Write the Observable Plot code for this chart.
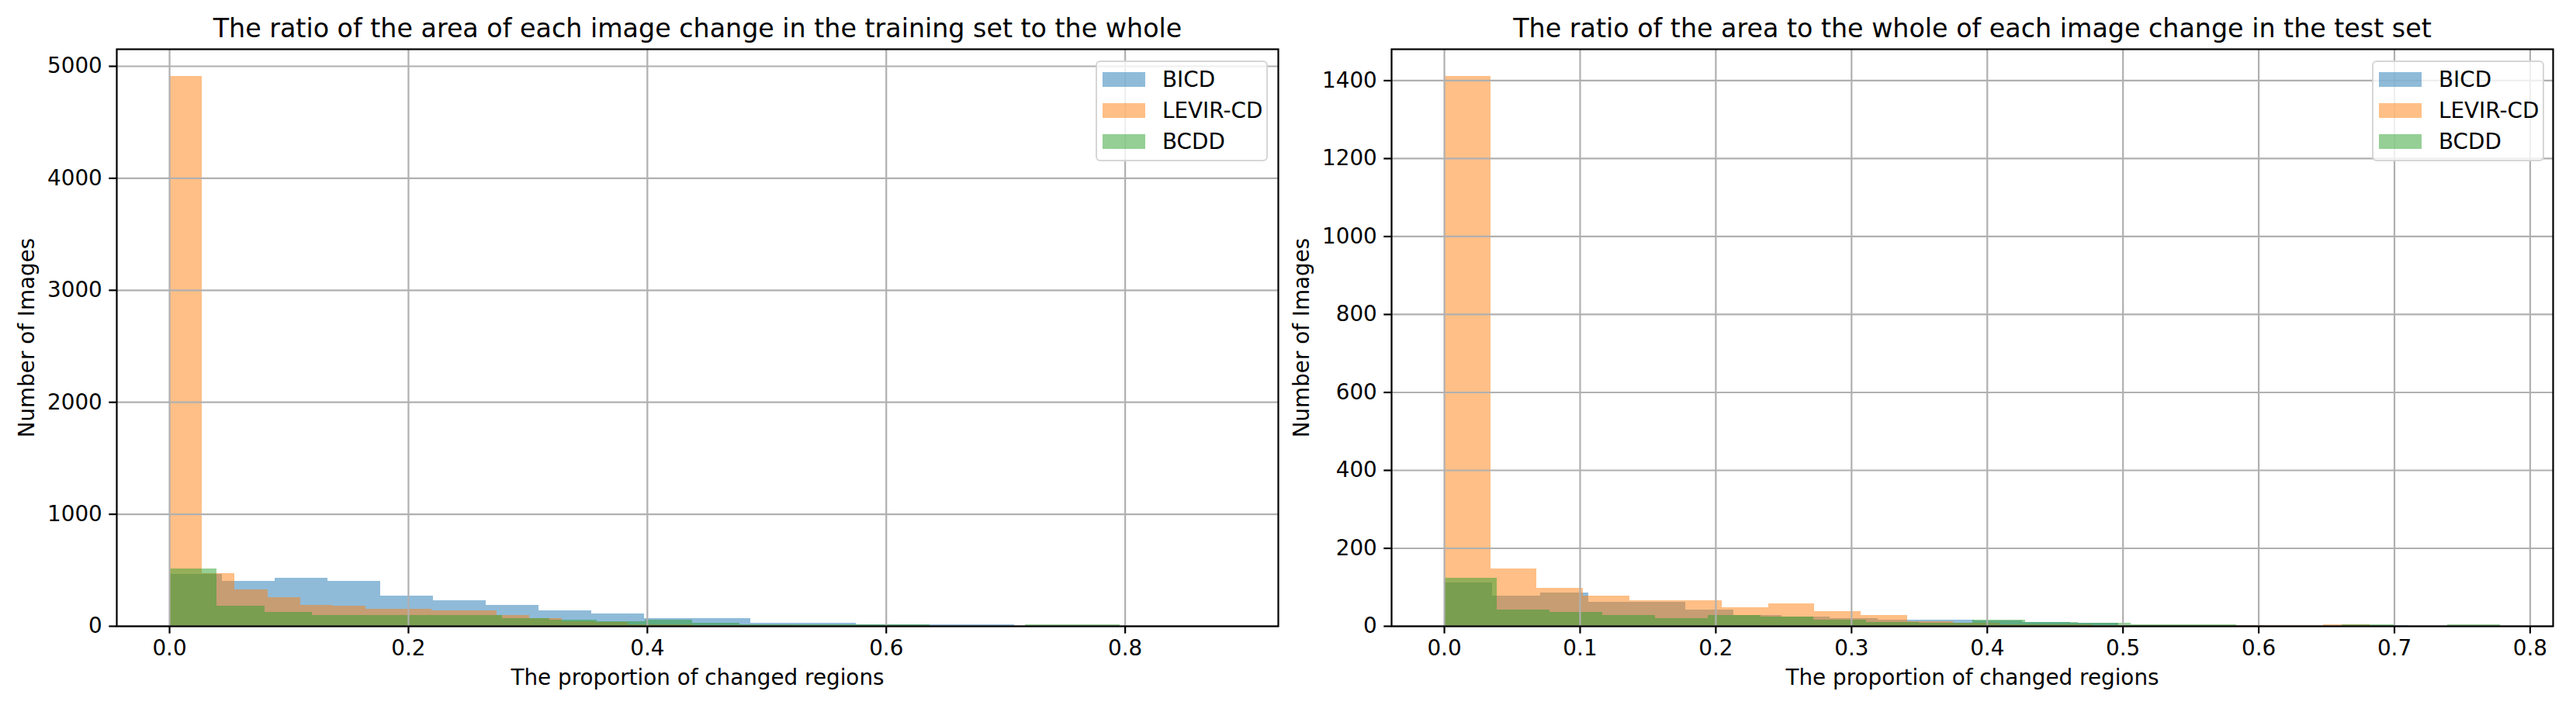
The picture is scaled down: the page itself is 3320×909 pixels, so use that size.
<!DOCTYPE html>
<html>
<head>
<meta charset="utf-8">
<script src="https://cdn.jsdelivr.net/npm/d3@7"></script>
<script src="https://cdn.jsdelivr.net/npm/@observablehq/plot@0.6"></script>
<style>
  body { margin: 0; background: #fff; }
  #wrap { position: relative; width: 3320px; height: 909px; display: flex; font-family: "DejaVu Sans", sans-serif; color: #000; }
  #wrap svg { display: block; }
  .legend { position: absolute; top: 78px; width: 218px; height: 126px; background: rgba(255,255,255,0.8);
            border: 2px solid rgba(204,204,204,0.8); border-radius: 6px; box-sizing: content-box; }
  .item { position: absolute; left: 7px; height: 40px; display: flex; align-items: center; }
  .sw { width: 55px; height: 19px; margin-right: 22px; }
  .lab { font-size: 27.8px; font-family: "DejaVu Sans", sans-serif; }
</style>
</head>
<body>
<div id="wrap"></div>
<script>
// ---- data (histogram counts, 20 bins per dataset, bins spanning each dataset's range) ----
const seriesNames = ["BICD", "LEVIR-CD", "BCDD"];
const seriesColors = ["#1f77b4", "#ff7f0e", "#2ca02c"];

// training set
const trainBICD  = [462, 404, 432, 404, 270, 231, 189, 136, 111, 69, 69, 30, 30, 14, 14, 14, 0, 0, 0, 1];
const trainLEVIR = [4907, 473, 325, 258, 189, 178, 150, 150, 136, 136, 97, 69, 39, 32, 16, 16, 9, 6, 4, 2];
const trainBCDD  = [512, 178, 125, 97, 97, 97, 97, 69, 55, 42, 58, 30, 16, 16, 16, 16, 0, 0, 12, 12];
const trainRanges = [[0, 0.884], [0, 0.548], [0, 0.796]];

// test set
const testBICD  = [112, 77, 85, 62, 62, 42, 27, 24, 19, 15, 15, 14, 9, 8, 2, 1, 1, 0, 0, 1];
const testLEVIR = [1410, 147, 97, 77, 66, 66, 47, 57, 38, 28, 11, 7, 4, 3, 2, 2, 1, 1, 1, 3];
const testBCDD  = [123, 42, 35, 27, 20, 27, 24, 15, 9, 7, 15, 9, 8, 3, 3, 0, 0, 3, 0, 3];
const testRanges = [[0, 0.71], [0, 0.682], [0, 0.778]];

const trainXTicks = [0, 0.2, 0.4, 0.6, 0.8];
const trainYTicks = [0, 1000, 2000, 3000, 4000, 5000];
const testXTicks  = [0, 0.1, 0.2, 0.3, 0.4, 0.5, 0.6, 0.7, 0.8];
const testYTicks  = [0, 200, 400, 600, 800, 1000, 1200, 1400];

const trainTitle = "The ratio of the area of each image change in the training set to the whole";
const testTitle  = "The ratio of the area to the whole of each image change in the test set";
const xLabel = "The proportion of changed regions";
const yLabel = "Number of Images";

// ---- helpers ----
function binRows(counts, range) {
  const [lo, hi] = range, w = (hi - lo) / counts.length;
  return counts.map((c, i) => ({ x1: lo + i * w, x2: lo + (i + 1) * w, y: c }));
}
function padDomain(lo, hi) { const s = hi - lo; return [lo - 0.05 * s, hi + 0.05 * s]; }

function panel({ counts, ranges, xTicks, yTicks, title, ml, mr }) {
  const xmax = d3.max(ranges, r => r[1]);
  const ymax = d3.max(counts, c => d3.max(c));
  const bars = counts.map((c, k) =>
    Plot.rectY(binRows(c, ranges[k]), { x1: "x1", x2: "x2", y: "y", fill: seriesColors[k], fillOpacity: 0.5, shapeRendering: "crispEdges" })
  );
  const grid = "#b0b0b0";
  return Plot.plot({
    width: 1660, height: 909,
    marginLeft: ml, marginRight: mr, marginTop: 63, marginBottom: 102,
    style: { fontFamily: "DejaVu Sans, sans-serif", fontSize: "27.8px", color: "#000", background: "#fff" },
    x: { domain: padDomain(0, xmax) },
    y: { domain: [0, ymax * 1.05] },
    marks: [
      ...bars,
      Plot.gridX(xTicks, { stroke: grid, strokeOpacity: 1, strokeWidth: 2.2 }),
      Plot.gridY(yTicks, { stroke: grid, strokeOpacity: 1, strokeWidth: 2.2 }),
      Plot.frame({ stroke: "#000", strokeWidth: 2.2 }),
      Plot.axisX(xTicks, { tickFormat: d3.format(".1f"), tickSize: 9.7, tickPadding: 8, fontSize: 27.8, label: null, stroke: "#000", strokeWidth: 2.2 }),
      Plot.axisY(yTicks, { tickFormat: d3.format("d"), tickSize: 9.7, tickPadding: 9, fontSize: 27.8, label: null, stroke: "#000", strokeWidth: 2.2 }),
      Plot.text([title], { text: d => d, frameAnchor: "top", lineAnchor: "bottom", dy: -16, fontSize: 33.3 }),
      Plot.text([xLabel], { text: d => d, frameAnchor: "bottom", lineAnchor: "middle", dy: 67, fontSize: 27.8 }),
      Plot.text([yLabel], { text: d => d, frameAnchor: "left", textAnchor: "middle", lineAnchor: "middle", rotate: -90, dx: -115, fontSize: 27.8 })
    ]
  });
}

function legend(left) {
  const d = document.createElement("div");
  d.className = "legend";
  d.style.left = left + "px";
  seriesNames.forEach((n, i) => {
    const it = document.createElement("div");
    it.className = "item";
    it.style.top = (2 + i * 40) + "px";
    const sw = document.createElement("div");
    sw.className = "sw";
    const c = d3.color(seriesColors[i]); c.opacity = 0.5;
    sw.style.background = c.formatRgb();
    const lb = document.createElement("span");
    lb.className = "lab";
    lb.textContent = n;
    it.appendChild(sw); it.appendChild(lb);
    d.appendChild(it);
  });
  return d;
}

const wrap = document.getElementById("wrap");
wrap.appendChild(panel({ counts: [trainBICD, trainLEVIR, trainBCDD], ranges: trainRanges, xTicks: trainXTicks, yTicks: trainYTicks, title: trainTitle, ml: 150, mr: 13 }));
wrap.appendChild(panel({ counts: [testBICD, testLEVIR, testBCDD], ranges: testRanges, xTicks: testXTicks, yTicks: testYTicks, title: testTitle, ml: 133, mr: 30 }));
wrap.appendChild(legend(1412));
wrap.appendChild(legend(3057));
</script>
</body>
</html>
